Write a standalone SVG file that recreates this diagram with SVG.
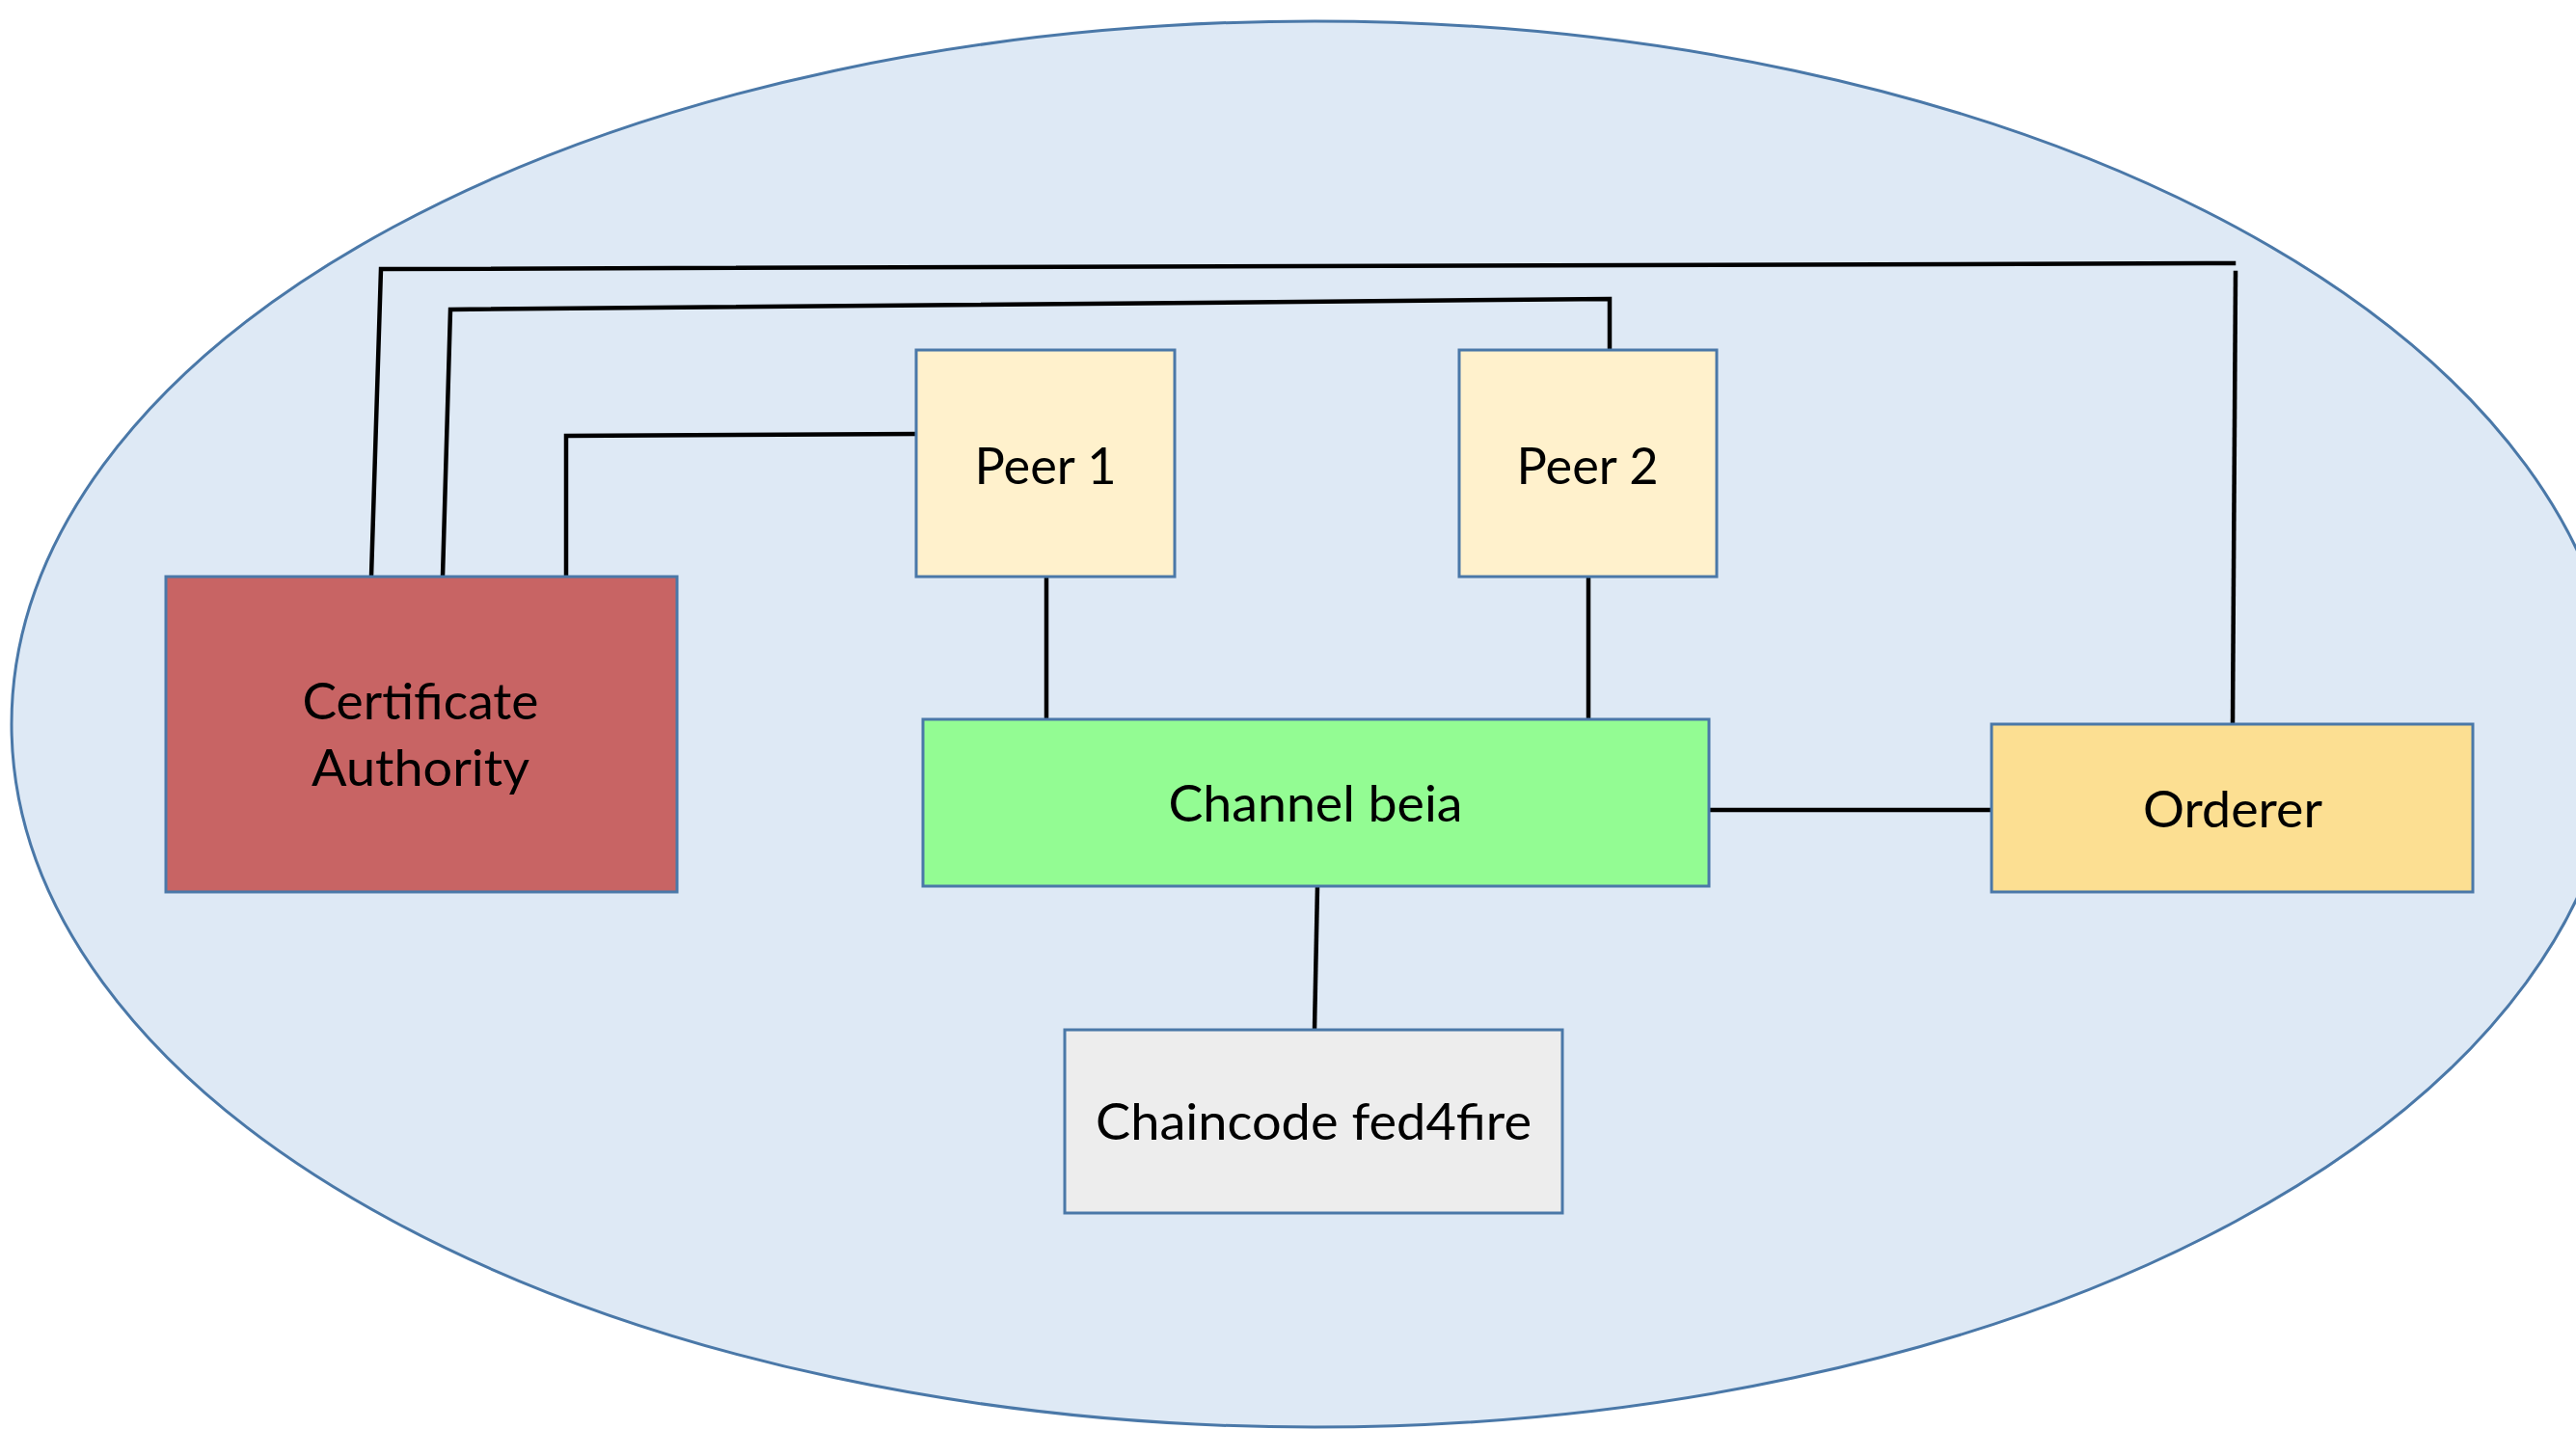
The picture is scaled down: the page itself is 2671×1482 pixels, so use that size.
<svg xmlns="http://www.w3.org/2000/svg" width="2671" height="1482" viewBox="0 0 2671 1482">
<style>
.box{stroke:#4A78A8;stroke-width:3}
.lbl{font-family:Lato,"Liberation Sans",sans-serif;font-size:53px;fill:#000;text-anchor:middle}
.wire{fill:none;stroke:#000;stroke-width:4.5;stroke-linejoin:miter;stroke-linecap:square}
</style>
<rect width="2671" height="1482" fill="#fff"/>
<ellipse cx="1363" cy="751" rx="1351" ry="729" fill="#DEE9F5" stroke="#4A78A8" stroke-width="3"/>
<g id="connectors">
<polyline class="wire" points="385,598 395,279 2316,273"/>
<polyline class="wire" points="2315,751 2318,283"/>
<polyline class="wire" points="459,598 467,321 1669,310 1669,363"/>
<polyline class="wire" points="587,598 587,452 950,450"/>
<line class="wire" x1="1085" y1="598" x2="1085" y2="746"/>
<line class="wire" x1="1647" y1="598" x2="1647" y2="746"/>
<line class="wire" x1="1772" y1="840" x2="2065" y2="840" stroke-width="5"/>
<line class="wire" x1="1366" y1="919" x2="1363" y2="1068"/>
</g>
<g id="ca">
<rect class="box" x="172" y="598" width="530" height="327" fill="#C86464"/>
<text class="lbl" x="436" y="746" textLength="245" lengthAdjust="spacingAndGlyphs">Certificate</text>
<text class="lbl" x="436" y="815" textLength="226" lengthAdjust="spacingAndGlyphs">Authority</text>
</g>
<g id="peer1">
<rect class="box" x="950" y="363" width="268" height="235" fill="#FFF1CC"/>
<text class="lbl" x="1084" y="502" textLength="147" lengthAdjust="spacingAndGlyphs">Peer 1</text>
</g>
<g id="peer2">
<rect class="box" x="1513" y="363" width="267" height="235" fill="#FFF1CC"/>
<text class="lbl" x="1646" y="502" textLength="147" lengthAdjust="spacingAndGlyphs">Peer 2</text>
</g>
<g id="channel">
<rect class="box" x="957" y="746" width="815" height="173" fill="#93FC93"/>
<text class="lbl" x="1364" y="852" textLength="305" lengthAdjust="spacingAndGlyphs">Channel beia</text>
</g>
<g id="orderer">
<rect class="box" x="2065" y="751" width="499" height="174" fill="#FCDF92"/>
<text class="lbl" x="2315" y="858" textLength="186" lengthAdjust="spacingAndGlyphs">Orderer</text>
</g>
<g id="chaincode">
<rect class="box" x="1104" y="1068" width="516" height="190" fill="#EDEDED"/>
<text class="lbl" x="1362" y="1182" textLength="452" lengthAdjust="spacingAndGlyphs">Chaincode fed4fire</text>
</g>
</svg>
